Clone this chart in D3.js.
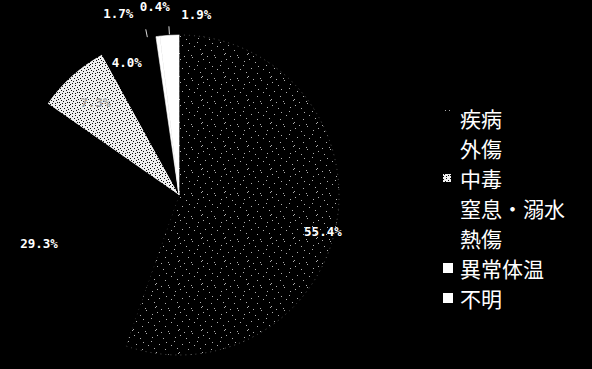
<!DOCTYPE html>
<html>
<head>
<meta charset="utf-8">
<script src="https://cdn.jsdelivr.net/npm/d3@7"></script>
<style>
  html, body { margin: 0; padding: 0; background: #000; }
  svg { display: block; }
</style>
</head>
<body>
<script>
// Share of cases by cause (%)
const categories = ["疾病", "外傷", "中毒", "窒息・溺水", "熱傷", "異常体温", "不明"];
const values = [55.4, 29.3, 7.3, 4.0, 1.7, 0.4, 1.9];
const valueLabels = ["55.4%", "29.3%", "7.3%", "4.0%", "1.7%", "0.4%", "1.9%"];

// Per-slice appearance and label placement (radius from centre, nudge in px)
const fills = ["url(#grainDark)", "#000", "url(#grainLight)", "#000", "#000", "#fff", "#fff"];
const edgeInk = ["#555", "none", "none", "none", "none", "#fff", "#fff"];
const legendMarks = ["dots", "none", "grain", "none", "none", "solid", "solid"];
const labelRadius = [146, 147, 125, 142, 182, 184, 180];
const labelNudge = [[0, 12], [0, 4], [0, 0], [0, 0], [-25, -3], [0, -6], [28, -1]];
const labelInk = ["#fff", "#fff", "#aaa", "#fff", "#fff", "#fff", "#fff"];
const leaderSlices = [4, 6];

const W = 592, H = 369;
const cx = 179, cy = 195, R = 160;

const svg = d3.select("body").append("svg")
  .attr("width", W).attr("height", H)
  .style("background", "#000");

const defs = svg.append("defs");

// Sparse light grain on black
const darkDots = [[1,2],[13,0],[7,5],[19,4],[3,11],[15,12],[9,16],[21,15],[0,19],[12,21],[18,8],[5,22],[22,20],[10,9]];
const pd = defs.append("pattern").attr("id", "grainDark")
  .attr("patternUnits", "userSpaceOnUse").attr("width", 23).attr("height", 23);
pd.append("rect").attr("width", 23).attr("height", 23).attr("fill", "#000");
pd.selectAll("rect.d").data(darkDots).join("rect").attr("class", "d")
  .attr("x", d => d[0]).attr("y", d => d[1]).attr("width", 1).attr("height", 1)
  .attr("fill", "#b0b0b0");

// Dense dark grain on white
const lightDots = [[0,0],[3,1],[6,0],[1,3],[5,3],[8,2],[2,5],[7,5],[4,6],[0,7],[6,8],[3,8],[8,7],[1,9],[9,4]];
const pl = defs.append("pattern").attr("id", "grainLight")
  .attr("patternUnits", "userSpaceOnUse").attr("width", 10).attr("height", 10);
pl.append("rect").attr("width", 10).attr("height", 10).attr("fill", "#f0f0f0");
pl.selectAll("rect.d").data(lightDots).join("rect").attr("class", "d")
  .attr("x", d => d[0]).attr("y", d => d[1]).attr("width", 1).attr("height", 1)
  .attr("fill", "#111");

const pie = d3.pie().sort(null).value(d => d)
  .startAngle(0).endAngle(2 * Math.PI);
const arcs = pie(values);
const arc = d3.arc().innerRadius(0).outerRadius(R);

const g = svg.append("g").attr("transform", `translate(${cx},${cy})`);

g.selectAll("path.slice").data(arcs).join("path")
  .attr("class", "slice")
  .attr("d", arc)
  .attr("fill", (d, i) => fills[i])
  .attr("stroke", (d, i) => edgeInk[i])
  .attr("stroke-width", (d, i) => i === 0 ? 1 : 0.6)
  .attr("stroke-dasharray", (d, i) => i === 0 ? "1 4" : null);

// Short leader ticks for the thinnest slices
const tick = (a, r) => [Math.sin(a) * r, -Math.cos(a) * r];
g.selectAll("line.leader").data(leaderSlices).join("line")
  .attr("class", "leader")
  .each(function (i) {
    const a = (arcs[i].startAngle + arcs[i].endAngle) / 2;
    const p0 = tick(a, R + 1), p1 = tick(a, R + 9);
    d3.select(this).attr("x1", p0[0]).attr("y1", p0[1]).attr("x2", p1[0]).attr("y2", p1[1]);
  })
  .attr("stroke", "#ddd").attr("stroke-width", 1);

// Percentage labels
g.selectAll("text.pct").data(arcs).join("text")
  .attr("class", "pct")
  .attr("transform", (d, i) => {
    const c = d3.arc().innerRadius(labelRadius[i]).outerRadius(labelRadius[i]).centroid(d);
    return `translate(${c[0] + labelNudge[i][0]},${c[1] + labelNudge[i][1]})`;
  })
  .attr("text-anchor", "middle")
  .attr("dominant-baseline", "central")
  .attr("fill", (d, i) => labelInk[i])
  .attr("font-family", "'DejaVu Sans Mono', monospace")
  .attr("font-size", 12.5)
  .attr("font-weight", "bold")
  .text((d, i) => valueLabels[i]);

// Legend
const legendY = d3.scalePoint().domain(categories).range([118, 298]);
const lg = svg.append("g");
const rows = lg.selectAll("g.row").data(categories).join("g")
  .attr("class", "row")
  .attr("transform", d => `translate(0,${legendY(d)})`);

rows.each(function (d, i) {
  const row = d3.select(this);
  const kind = legendMarks[i];
  if (kind === "solid") {
    row.append("rect").attr("x", 443).attr("y", -5).attr("width", 10).attr("height", 10).attr("fill", "#fff");
  } else if (kind === "grain") {
    row.append("rect").attr("x", 443).attr("y", -4).attr("width", 8).attr("height", 8).attr("fill", "url(#grainLight)");
  } else if (kind === "dots") {
    row.append("rect").attr("x", 445).attr("y", -8).attr("width", 1).attr("height", 1).attr("fill", "#aaa");
    row.append("rect").attr("x", 449).attr("y", -8).attr("width", 1).attr("height", 1).attr("fill", "#aaa");
  }
  row.append("text")
    .attr("x", 460).attr("y", 0)
    .attr("dominant-baseline", "central")
    .attr("fill", "#fff")
    .attr("font-family", "'Noto Sans CJK JP', sans-serif")
    .attr("font-size", 21)
    .text(d);
});
</script>
</body>
</html>
